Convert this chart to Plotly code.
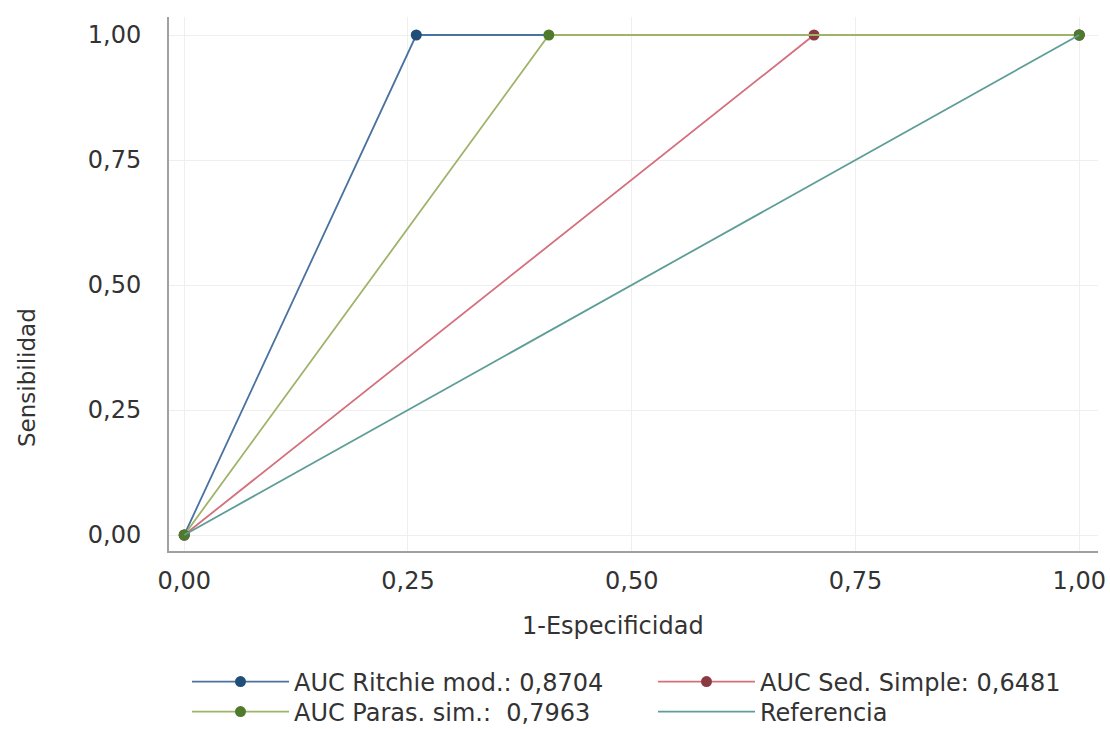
import plotly.graph_objects as go

# Data (1-Especificidad, Sensibilidad)
ritchie_x = [0.0, 0.2593, 1.0]
ritchie_y = [0.0, 1.0, 1.0]
sed_x = [0.0, 0.7037, 1.0]
sed_y = [0.0, 1.0, 1.0]
paras_x = [0.0, 0.4074, 1.0]
paras_y = [0.0, 1.0, 1.0]
ref_x = [0.0, 1.0]
ref_y = [0.0, 1.0]

names = ["AUC Ritchie mod.: 0,8704", "AUC Sed. Simple: 0,6481",
         "AUC Paras. sim.:  0,7963", "Referencia"]

tickvals = [0, 0.25, 0.5, 0.75, 1.0]
ticktext = ["0,00", "0,25", "0,50", "0,75", "1,00"]

x_title = "1-Especificidad"
y_title = "Sensibilidad"

FONT = "DejaVu Sans, Verdana, sans-serif"
TXT = "#333333"
FS = 24

W, H = 1110, 729
ML, MR, MT, MB = 169, 12, 17, 178
PW, PH = W - ML - MR, H - MT - MB

fig = go.Figure()
fig.add_trace(go.Scatter(x=ritchie_x, y=ritchie_y, name=names[0], mode="lines+markers",
                         line=dict(color="#4a72a0", width=1.8),
                         marker=dict(color="#1f4e79", size=11), legend="legend"))
fig.add_trace(go.Scatter(x=sed_x, y=sed_y, name=names[1], mode="lines+markers",
                         line=dict(color="#d4707c", width=1.8),
                         marker=dict(color="#8b3a42", size=11), legend="legend2"))
fig.add_trace(go.Scatter(x=paras_x, y=paras_y, name=names[2], mode="lines+markers",
                         line=dict(color="#9fb46a", width=1.8),
                         marker=dict(color="#4f7a2b", size=11), legend="legend3"))
fig.add_trace(go.Scatter(x=ref_x, y=ref_y, name=names[3], mode="lines",
                         line=dict(color="#5e9e96", width=1.8), legend="legend4"))

axis_common = dict(
    tickvals=tickvals, ticktext=ticktext,
    showgrid=True, gridcolor="#efefef", gridwidth=1,
    zeroline=False, showline=True, linecolor="#a0a0a0", linewidth=2,
    ticks="", tickfont=dict(family=FONT, size=FS, color=TXT),
    automargin=False,
)

legend_common = dict(
    orientation="v", xref="container", yref="container",
    xanchor="left", yanchor="middle",
    font=dict(family=FONT, size=FS, color=TXT),
    itemwidth=97, tracegroupgap=0, bgcolor="rgba(0,0,0,0)",
)

row1 = 1 - 682 / H
row2 = 1 - 712 / H
col1 = 187 / W
col2 = 653 / W

fig.update_layout(
    width=W, height=H,
    margin=dict(l=ML, r=MR, t=MT, b=MB, autoexpand=False),
    plot_bgcolor="white", paper_bgcolor="white",
    font=dict(family=FONT, color=TXT),
    xaxis=dict(range=[-0.017, 1.021], ticklabelstandoff=7, **axis_common),
    yaxis=dict(range=[-0.032, 1.036], ticklabelstandoff=21, **axis_common),
    legend=dict(x=col1, y=row1, **legend_common),
    legend2=dict(x=col2, y=row1, **legend_common),
    legend3=dict(x=col1, y=row2, **legend_common),
    legend4=dict(x=col2, y=row2, **legend_common),
    showlegend=True,
    annotations=[
        dict(text=x_title, xref="paper", yref="paper",
             x=(613 - ML) / PW, y=(MT + PH - 626) / PH,
             xanchor="center", yanchor="middle", showarrow=False,
             font=dict(family=FONT, size=FS, color=TXT)),
        dict(text=y_title, xref="paper", yref="paper",
             x=(27 - ML) / PW, y=(MT + PH - 378) / PH, textangle=-90,
             xanchor="center", yanchor="middle", showarrow=False,
             font=dict(family=FONT, size=FS - 1, color=TXT)),
    ],
)

fig.write_html("out.html", config={"displayModeBar": False},
               post_script="document.body.style.margin='0';document.body.style.overflow='hidden';")
